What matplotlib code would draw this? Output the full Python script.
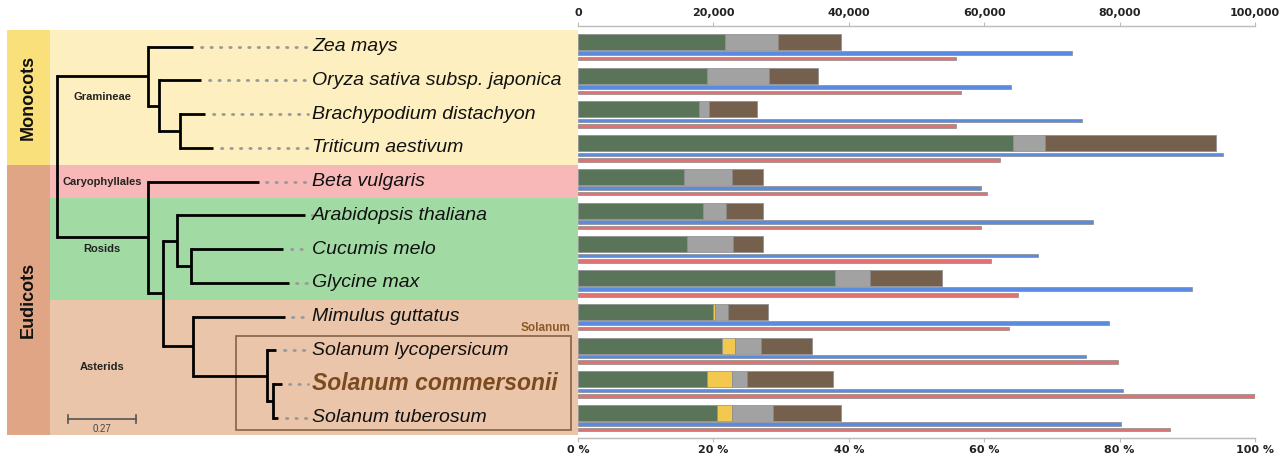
import matplotlib
matplotlib.use("Agg")
import matplotlib.pyplot as plt
from matplotlib.patches import Rectangle

# species (top to bottom)
species = ['Zea mays', 'Oryza sativa subsp. japonica', 'Brachypodium distachyon',
           'Triticum aestivum', 'Beta vulgaris', 'Arabidopsis thaliana', 'Cucumis melo',
           'Glycine max', 'Mimulus guttatus', 'Solanum lycopersicum',
           'Solanum commersonii', 'Solanum tuberosum']

# stacked bar segments (absolute counts)
green_seg = [21700, 19100, 17900, 64200, 15600, 18500, 16100, 38000, 19900, 21200, 19100, 20500]
yellow_seg = [0, 0, 0, 0, 0, 0, 0, 0, 400, 2000, 3600, 2200]
gray_seg = [7900, 9100, 1500, 4800, 7100, 3400, 6800, 5100, 1900, 3800, 2200, 6100]
brown_seg = [9200, 7300, 7100, 25200, 4700, 5400, 4500, 10700, 5800, 7600, 12700, 10000]
# thin bars
blue_vals = [73000, 63900, 74400, 95200, 59600, 76000, 67900, 90700, 78500, 75000, 80500, 80200]
red_vals = [55800, 56600, 55800, 62400, 60400, 59600, 61000, 65000, 63600, 79700, 100000, 87400]

top_ticks = [0, 20000, 40000, 60000, 80000, 100000]
top_labels = ['0', '20,000', '40,000', '60,000', '80,000', '100,000']
bottom_labels = ['0 %', '20 %', '40 %', '60 %', '80 %', '100 %']

# tree: (depth, children) for nodes, int = leaf row; tip depths per row
tip_depth = [0.541, 0.573, 0.589, 0.621, 0.803, 0.986, 0.899, 0.922, 0.906, 0.871, 0.893, 0.880]
tree = (0.0, [
    (0.364, [0, (0.407, [1, (0.490, [2, 3])])]),
    (0.363, [4, (0.422, [(0.476, [5, (0.533, [6, 7])]),
                         (0.540, [8, (0.834, [9, (0.858, [10, 11])])])])]),
])

W, H = 1283, 454
fig = plt.figure(figsize=(W / 100, H / 100), dpi=100)
y_top_px, y_bot_px = 26, 438.3
row0_px, row_step = 46.7, 33.73
ylo = (y_bot_px - row0_px) / row_step
yhi = (y_top_px - row0_px) / row_step
ax_b = 1 - y_bot_px / H
ax_h = (y_bot_px - y_top_px) / H

# ---------------- tree panel ----------------
px_per_unit = 251.85
root_px = 56.7
tx = fig.add_axes([0, ax_b, 578 / W, ax_h])
tx.set_xlim(-root_px / px_per_unit, (578 - root_px) / px_per_unit)
tx.set_ylim(ylo, yhi)
tx.axis('off')

strip_l = (7 - root_px) / px_per_unit
strip_r = (50 - root_px) / px_per_unit
xmax = tx.get_xlim()[1]
# clade bands
tx.add_patch(Rectangle((strip_l, -0.5), strip_r - strip_l, 4.0, color='#FAE07A', lw=0))
tx.add_patch(Rectangle((strip_l, 3.5), strip_r - strip_l, 8.0, color='#E0A585', lw=0))
for y0, y1, c in [(-0.5, 3.5, '#FDEFC0'), (3.5, 4.5, '#F9B8B8'),
                  (4.5, 7.5, '#A2DAA4'), (7.5, 11.5, '#EAC5A9')]:
    tx.add_patch(Rectangle((strip_r, y0), xmax - strip_r, y1 - y0, color=c, lw=0))

tx.text((strip_l + strip_r) / 2, 1.5, 'Monocots', rotation=90, ha='center', va='center',
        fontsize=13, fontweight='bold', family='Liberation Sans', color='#111111')
tx.text((strip_l + strip_r) / 2, 7.5, 'Eudicots', rotation=90, ha='center', va='center',
        fontsize=13, fontweight='bold', family='Liberation Sans', color='#111111')


def draw(node, parent_depth):
    if isinstance(node, int):
        d = tip_depth[node]
        tx.plot([parent_depth, d], [node, node], color='black', lw=2.0, solid_capstyle='butt')
        return node
    d, kids = node
    ys = [draw(k, d) for k in kids]
    y = (ys[0] + ys[-1]) / 2
    tx.plot([d, d], [ys[0], ys[-1]], color='black', lw=2.0, solid_capstyle='projecting')
    if parent_depth is not None:
        tx.plot([parent_depth, d], [y, y], color='black', lw=2.0, solid_capstyle='butt')
    return y


draw(tree, None)

label_x = (312 - root_px) / px_per_unit
dot_end = (308 - root_px) / px_per_unit
for i, name in enumerate(species):
    if tip_depth[i] < dot_end - 0.01:
        tx.plot([tip_depth[i] + 0.03, dot_end], [i, i], color='#999999', lw=2.0,
                linestyle=(0, (0.5, 2.9)), dash_capstyle='round')
    if name == 'Solanum commersonii':
        tx.text(label_x, i, name, ha='left', va='center', fontsize=16.5, style='italic',
                fontweight='bold', color='#7B4A1E', family='Liberation Sans')
    else:
        tx.text(label_x, i, name, ha='left', va='center', fontsize=14, style='italic',
                color='#111111', family='Liberation Sans')

grp_x = (102 - root_px) / px_per_unit
for txt, y in [('Gramineae', 1.48), ('Caryophyllales', 4.0), ('Rosids', 6.0), ('Asterids', 9.5)]:
    tx.text(grp_x, y, txt, ha='center', va='center', fontsize=8, fontweight='bold',
            family='Liberation Sans', color='#222222')

# Solanum box
box_l = (235.7 - root_px) / px_per_unit
box_r = (570.7 - root_px) / px_per_unit
tx.add_patch(Rectangle((box_l, 8.58), box_r - box_l, 2.78, fill=False,
                       edgecolor='#8B6A50', lw=1.3))
tx.text(box_r, 8.35, 'Solanum', ha='right', va='center', fontsize=8.5, fontweight='bold',
        color='#8B5A2B', family='Liberation Sans')

# scale bar
sb_l = (68 - root_px) / px_per_unit
sb_y = (419.3 - row0_px) / row_step
tx.plot([sb_l, sb_l + 0.27], [sb_y, sb_y], color='#555555', lw=1.2)
for xx in [sb_l, sb_l + 0.27]:
    tx.plot([xx, xx], [sb_y - 0.12, sb_y + 0.12], color='#555555', lw=1.2)
tx.text(sb_l + 0.135, sb_y + 0.3, '0.27', ha='center', va='center', fontsize=7,
        color='#444444', family='Liberation Sans')

# ---------------- bar panel ----------------
ax = fig.add_axes([578 / W, ax_b, (1255 - 578) / W, ax_h])
ax.set_xlim(0, 100000)
ax.set_ylim(ylo, yhi)
rows = list(range(len(species)))
edge = dict(edgecolor='#8a8a8a', linewidth=0.5)

left = [0] * len(rows)
for seg, c in [(green_seg, '#5A7459'), (yellow_seg, '#F2C94E'),
               (gray_seg, '#A2A2A2'), (brown_seg, '#75604D')]:
    ax.barh([r - 0.14 for r in rows], seg, left=left, height=0.474, color=c, **edge)
    left = [a + b for a, b in zip(left, seg)]
ax.barh([r + 0.19 for r in rows], blue_vals, height=0.105, color='#5B8BE0', **edge)
ax.barh([r + 0.355 for r in rows], red_vals, height=0.105, color='#E07272', **edge)

for s in ['left', 'right']:
    ax.spines[s].set_visible(False)
for s in ['top', 'bottom']:
    ax.spines[s].set_color('#BBBBBB')
    ax.spines[s].set_linewidth(1.0)
ax.set_yticks([])
ax.xaxis.tick_top()
ax.set_xticks(top_ticks)
ax.set_xticklabels(top_labels, fontsize=8, fontweight='bold', color='#222222')
ax.tick_params(axis='x', length=3, color='#BBBBBB', pad=3)

sec = ax.secondary_xaxis('bottom')
sec.set_xticks(top_ticks)
sec.set_xticklabels(bottom_labels, fontsize=8, fontweight='bold', color='#222222')
sec.tick_params(length=3, color='#BBBBBB', pad=2)
sec.spines['bottom'].set_color('#BBBBBB')

fig.savefig('out.png', dpi=100)
